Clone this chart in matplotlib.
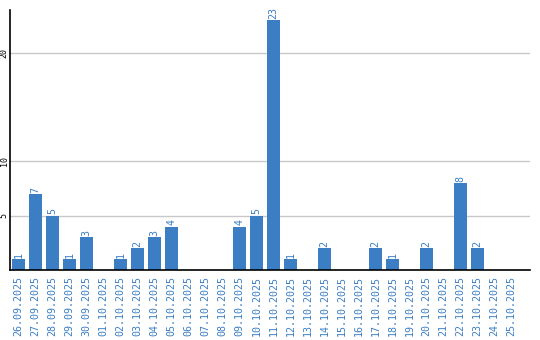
import matplotlib
matplotlib.use('Agg')
import matplotlib.pyplot as plt

dates = ['26.09.2025', '27.09.2025', '28.09.2025', '29.09.2025', '30.09.2025',
         '01.10.2025', '02.10.2025', '03.10.2025', '04.10.2025', '05.10.2025',
         '06.10.2025', '07.10.2025', '08.10.2025', '09.10.2025', '10.10.2025',
         '11.10.2025', '12.10.2025', '13.10.2025', '14.10.2025', '15.10.2025',
         '16.10.2025', '17.10.2025', '18.10.2025', '19.10.2025', '20.10.2025',
         '21.10.2025', '22.10.2025', '23.10.2025', '24.10.2025', '25.10.2025']
counts = [1, 7, 5, 1, 3, 0, 1, 2, 3, 4, 0, 0, 0, 4, 5,
          23, 1, 0, 2, 0, 0, 2, 1, 0, 2, 0, 8, 2, 0, 0]
yticks = [5, 10, 20]

blue = '#3b7ec3'


def main():
    fig = plt.figure(figsize=(5.4, 3.4), dpi=100)
    ax = fig.add_axes([10 / 540, 70 / 340, 520 / 540, 260 / 340])

    x = list(range(len(dates)))
    ax.bar(x, counts, width=0.82, color=blue, zorder=2)
    for xi, c in zip(x, counts):
        if c > 0:
            ax.annotate(str(c), (xi, c), xytext=(0, 1), textcoords='offset points',
                        rotation=90, ha='center', va='bottom', color=blue,
                        fontsize=7.2, family='DejaVu Sans Mono')

    ax.set_xlim(-0.5, 30.09)
    ax.set_ylim(0, 23.92)
    ax.set_yticks(yticks)
    ax.set_yticklabels([str(t) for t in yticks], rotation=90, va='center',
                       fontsize=6, family='DejaVu Sans Mono')
    ax.tick_params(axis='y', length=0, pad=1)
    ax.set_xticks(x)
    ax.set_xticklabels(dates, rotation=90, color=blue, fontsize=7.2,
                       family='DejaVu Sans Mono')
    ax.tick_params(axis='x', length=0, pad=4)

    ax.grid(axis='y', color='#c8c8c8', linewidth=1, zorder=0)
    for s in ['top', 'right']:
        ax.spines[s].set_visible(False)
    ax.spines['left'].set_linewidth(1.2)
    ax.spines['bottom'].set_linewidth(1.2)

    fig.savefig('out.png', dpi=100)


if __name__ == '__main__':
    main()
